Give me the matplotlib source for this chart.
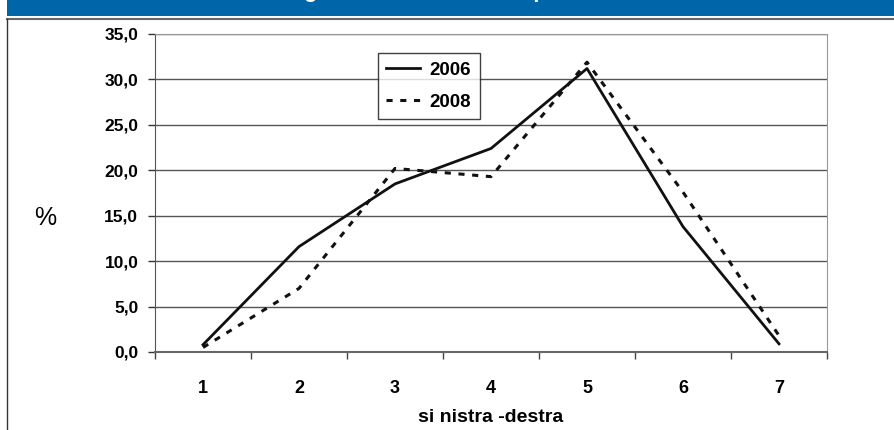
import numpy as np
import matplotlib.pyplot as plt
from matplotlib.lines import Line2D
from matplotlib.patches import Rectangle

plt.rcParams['font.family'] = ['Liberation Sans', 'DejaVu Sans']

categorie = [1, 2, 3, 4, 5, 6, 7]
valori_2006 = [0.8, 11.6, 18.5, 22.4, 31.2, 13.8, 0.9]
valori_2008 = [0.5, 7.0, 20.2, 19.3, 31.9, 17.6, 1.8]
yticks = [0, 5, 10, 15, 20, 25, 30, 35]
ytick_labels = ['0,0', '5,0', '10,0', '15,0', '20,0', '25,0', '30,0', '35,0']
titolo = 'Autocollocazione degli elettori: confronto per anno'

W, H = 895, 430
fig = plt.figure(figsize=(W / 100, H / 100), dpi=100)

# banda blu in alto (titolo tagliato)
fig.patches.append(Rectangle((7 / W, 1 - 16 / H), 1, 16 / H, transform=fig.transFigure,
                             facecolor='#0066aa', edgecolor='none', zorder=0))
fig.text(88 / W, 1 + 3 / H, titolo, color='white', fontsize=16, fontweight='bold',
         ha='left', va='baseline', clip_on=False)
fig.add_artist(Line2D([7 / W, 1], [1 - 19 / H, 1 - 19 / H], transform=fig.transFigure,
                      color='#666666', lw=1.5))
fig.add_artist(Line2D([7 / W, 7 / W], [0, 1 - 19 / H], transform=fig.transFigure,
                      color='#333333', lw=1))

ax = fig.add_axes([155 / W, (H - 352) / H, 672 / W, 318 / H])
x = np.array(categorie)
ax.plot(x, valori_2006, color='#111111', lw=2, label='2006', zorder=3)
ax.plot(x, valori_2008, color='#111111', lw=2.2, linestyle=(0, (2, 2.5)), label='2008', zorder=3)

ax.set_xlim(0.5, 7.5)
ax.set_ylim(0, 35)
ax.set_yticks(yticks)
ax.set_yticklabels(ytick_labels, fontsize=12.5, fontweight='bold')
ax.set_xticks(x)
ax.set_xticklabels([str(c) for c in categorie], fontsize=13, fontweight='bold')
ax.set_xticks(np.arange(0.5, 8, 1), minor=True)
ax.tick_params(axis='x', which='major', length=0, pad=20)
ax.tick_params(axis='x', which='minor', length=5, width=1, color='#444444')
ax.tick_params(axis='y', length=5, width=1, color='#333333', pad=7)
ax.grid(axis='y', color='#555555', lw=1)
ax.set_axisbelow(True)
for s in ['top', 'right']:
    ax.spines[s].set_color('#999999')
ax.spines['left'].set_color('#555555')
ax.spines['bottom'].set_color('#666666')
ax.spines['bottom'].set_linewidth(1.5)

ax.set_xlabel('si nistra -destra', fontsize=14, fontweight='bold', labelpad=9)
fig.text(45 / W, 1 - 218 / H, '%', fontsize=18, ha='center', va='center')

leg = ax.legend(loc='upper left', bbox_to_anchor=((378 - 155) / 672, 1 - (53 - 34) / 318),
                frameon=True, fancybox=False, edgecolor='#111111',
                handlelength=1.8, borderaxespad=0, borderpad=0.45, labelspacing=0.8,
                handletextpad=0.5, prop={'weight': 'bold', 'size': 13.5})
leg.get_frame().set_linewidth(1)

fig.savefig('out.png', dpi=100, facecolor='white')
